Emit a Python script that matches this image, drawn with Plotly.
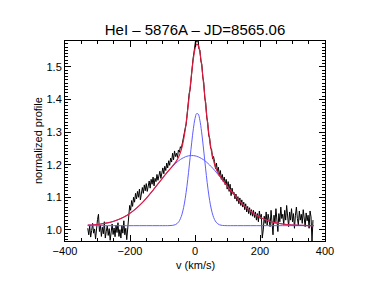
import numpy as np
import plotly.graph_objects as go

obs_v_start, obs_v_step = -330, 3
obs_flux = [
    1.005, 0.985, 1.012, 0.978, 0.998, 1.020, 0.990, 1.003, 0.972, 1.010,
    1.032, 1.048, 0.995, 1.015, 0.980, 1.008, 0.988, 1.025, 0.975, 0.996,
    1.012, 0.983, 1.004, 0.968, 0.995, 1.018, 0.986, 1.006, 0.979, 1.015,
    0.992, 1.022, 0.980, 1.001, 0.975, 1.013, 0.990, 1.028, 0.985, 1.005,
    0.970, 1.015, 1.045, 1.075, 1.060, 1.090, 1.072, 1.100, 1.085, 1.112,
    1.095, 1.118, 1.100, 1.125, 1.092, 1.108, 1.130, 1.112, 1.138, 1.120,
    1.142, 1.118, 1.135, 1.150, 1.128, 1.155, 1.140, 1.162, 1.135, 1.158,
    1.148, 1.170, 1.152, 1.165, 1.180, 1.158, 1.175, 1.190, 1.172, 1.195,
    1.182, 1.205, 1.190, 1.212, 1.198, 1.220, 1.208, 1.235, 1.215, 1.242,
    1.225, 1.235, 1.222, 1.245, 1.238, 1.255, 1.250, 1.268, 1.275, 1.298,
    1.312, 1.325, 1.362, 1.375, 1.418, 1.430, 1.472, 1.488, 1.525, 1.545,
    1.568, 1.590, 1.575, 1.595, 1.555, 1.552, 1.518, 1.508, 1.468, 1.452,
    1.405, 1.390, 1.345, 1.330, 1.290, 1.282, 1.250, 1.248, 1.218, 1.225,
    1.210, 1.188, 1.205, 1.178, 1.192, 1.165, 1.182, 1.155, 1.170, 1.148,
    1.162, 1.138, 1.155, 1.125, 1.148, 1.118, 1.140, 1.105, 1.128, 1.112,
    1.115, 1.095, 1.110, 1.088, 1.102, 1.080, 1.098, 1.075, 1.092, 1.070,
    1.085, 1.062, 1.080, 1.055, 1.072, 1.050, 1.068, 1.045, 1.062, 1.042,
    1.060, 1.038, 1.055, 1.030, 1.050, 1.025, 1.058, 1.035, 1.048, 0.975,
    1.000, 1.042, 1.020, 1.055, 1.015, 1.048, 1.030, 1.010, 1.060, 1.025,
    0.985, 1.045, 1.020, 1.065, 1.030, 0.995, 1.050, 1.025, 1.070, 1.035,
    1.048, 1.015, 1.060, 1.030, 1.075, 1.040, 1.010, 1.055, 1.030, 1.065,
    1.025, 1.050, 1.005, 1.045, 1.070, 1.035, 1.015, 1.058, 1.030, 1.048,
    1.020, 1.062, 1.035, 1.010, 1.052, 1.028, 1.045, 1.005, 1.058, 1.040,
    0.965, 1.030,
]
obs_v = obs_v_start + obs_v_step * np.arange(len(obs_flux))

# Fit curves sampled on a velocity grid
fit_v = [-330, -310, -290, -270, -250, -230, -210, -190, -170, -150, -130, -110,
         -90, -80, -70, -60, -55, -50, -45, -40, -35, -30, -25, -20, -15, -10,
         -5, 0, 5, 10, 15, 20, 25, 30, 35, 40, 45, 50, 55, 60, 65, 70, 75, 80,
         90, 100, 110, 130, 150, 170, 190, 210, 230, 250, 270, 290, 310, 330,
         350, 365]
broad_comp = [1.0146, 1.0158, 1.0180, 1.0213, 1.0265, 1.0340, 1.0445, 1.0583,
              1.0758, 1.0968, 1.1206, 1.1460, 1.1711, 1.1829, 1.1938, 1.2037,
              1.2081, 1.2121, 1.2157, 1.2189, 1.2216, 1.2239, 1.2257, 1.2270,
              1.2277, 1.2280, 1.2277, 1.2270, 1.2257, 1.2239, 1.2216, 1.2189,
              1.2157, 1.2121, 1.2081, 1.2037, 1.1989, 1.1938, 1.1885, 1.1829,
              1.1771, 1.1711, 1.1649, 1.1587, 1.1460, 1.1332, 1.1206, 1.0968,
              1.0758, 1.0583, 1.0445, 1.0340, 1.0265, 1.0213, 1.0180, 1.0158,
              1.0146, 1.0138, 1.0134, 1.0132]
narrow_comp = [1.013, 1.013, 1.013, 1.013, 1.013, 1.013, 1.013, 1.013,
               1.013, 1.013, 1.013, 1.013, 1.013, 1.0131, 1.0138, 1.0163,
               1.0195, 1.0250, 1.0341, 1.0482, 1.0688, 1.0969, 1.1328, 1.1755,
               1.2223, 1.2690, 1.3103, 1.3410, 1.3566, 1.3548, 1.3359, 1.3027,
               1.2599, 1.2128, 1.1665, 1.1250, 1.0906, 1.0641, 1.0450, 1.0319,
               1.0237, 1.0187, 1.0159, 1.0144, 1.0133, 1.013, 1.013, 1.013,
               1.013, 1.013, 1.013, 1.013, 1.013, 1.013, 1.013, 1.013,
               1.013, 1.013, 1.013, 1.013]
total_fit = [1.0146, 1.0158, 1.0180, 1.0213, 1.0265, 1.0340, 1.0445, 1.0583,
             1.0758, 1.0968, 1.1206, 1.1460, 1.1711, 1.1830, 1.1946, 1.2070,
             1.2146, 1.2241, 1.2368, 1.2541, 1.2774, 1.3078, 1.3455, 1.3895,
             1.4370, 1.4840, 1.5250, 1.5550, 1.5693, 1.5657, 1.5445, 1.5086,
             1.4626, 1.4119, 1.3616, 1.3157, 1.2765, 1.2449, 1.2205, 1.2018,
             1.1878, 1.1768, 1.1678, 1.1601, 1.1463, 1.1332, 1.1206, 1.0968,
             1.0758, 1.0583, 1.0445, 1.0340, 1.0265, 1.0213, 1.0180, 1.0158,
             1.0146, 1.0138, 1.0134, 1.0132]

x_ticks = [-400, -200, 0, 200, 400]
y_ticks = [1.0, 1.1, 1.2, 1.3, 1.4, 1.5]

title_text = "HeI \u2013 5876A \u2013 JD=8565.06"
x_title = "v (km/s)"
y_title = "normalized profile"

font_family = "Liberation Sans, Arial, Helvetica, sans-serif"
blue = "rgb(95,95,255)"
red = "rgb(225,25,60)"

fig = go.Figure()
fig.add_trace(go.Scatter(x=obs_v, y=obs_flux, mode="lines",
                         line=dict(color="black", width=1), showlegend=False))
fig.add_trace(go.Scatter(x=fit_v, y=broad_comp, mode="lines", line_shape="spline",
                         line=dict(color=blue, width=1), showlegend=False))
fig.add_trace(go.Scatter(x=fit_v, y=narrow_comp, mode="lines", line_shape="spline",
                         line=dict(color=blue, width=1), showlegend=False))
fig.add_trace(go.Scatter(x=fit_v, y=total_fit, mode="lines", line_shape="spline",
                         line=dict(color=red, width=1.2), showlegend=False))

axis_common = dict(showgrid=False, zeroline=False, showline=True, linecolor="black",
                   linewidth=1, mirror="ticks", ticks="inside", tickcolor="black",
                   ticklen=6, tickwidth=1,
                   tickfont=dict(family=font_family, size=11, color="black"))

fig.update_xaxes(range=[-400, 400], tickvals=x_ticks, ticktext=[f"{t:d}".replace("-", "\u2212") for t in x_ticks],
                 minor=dict(ticks="inside", ticklen=3, dtick=50, tickcolor="black", showgrid=False),
                 **axis_common)
fig.update_yaxes(range=[0.966, 1.579], tickvals=y_ticks, ticktext=[f"{t:.1f}" for t in y_ticks],
                 minor=dict(ticks="inside", ticklen=3, dtick=0.01, tickcolor="black", showgrid=False),
                 **axis_common)

fig.update_layout(
    width=374, height=289,
    margin=dict(l=57, r=57, t=33, b=56),
    paper_bgcolor="white", plot_bgcolor="white",
    font=dict(family=font_family, color="black"),
    title=dict(text=title_text, x=0.5, xref="paper", y=1 - 22 / 289, yref="container",
               xanchor="center", yanchor="middle",
               font=dict(family=font_family, size=15, color="black")),
    annotations=[
        dict(text=x_title, x=0.5, y=-24 / 200, xref="paper", yref="paper",
             showarrow=False, xanchor="center", yanchor="middle",
             font=dict(family=font_family, size=11, color="black")),
        dict(text=y_title, x=-27 / 260, y=0.5, xref="paper", yref="paper",
             showarrow=False, textangle=-90, xanchor="center", yanchor="middle",
             font=dict(family=font_family, size=11, color="black")),
    ],
)

fig.write_html("out.html")
